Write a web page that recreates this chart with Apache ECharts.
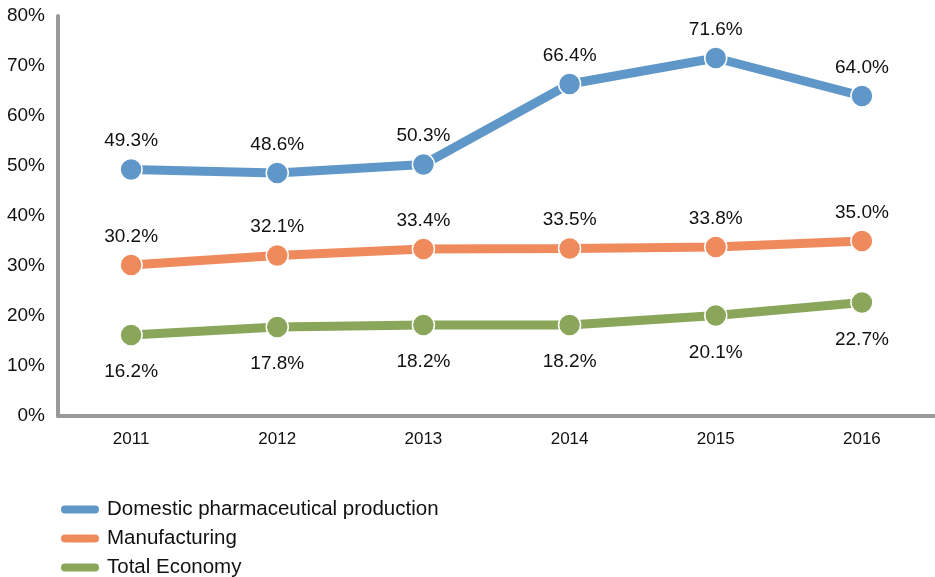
<!DOCTYPE html>
<html><head><meta charset="utf-8">
<script src="https://cdn.jsdelivr.net/npm/echarts@6/dist/echarts.min.js"></script>
<style>html,body{margin:0;padding:0;background:#fff}#c{width:935px;height:577px}</style>
</head><body><div id="c"></div>
<script>
const categories = ['2011','2012','2013','2014','2015','2016'];
const pharma = [49.3, 48.6, 50.3, 66.4, 71.6, 64.0];
const manufacturing = [30.2, 32.1, 33.4, 33.5, 33.8, 35.0];
const totalEconomy = [16.2, 17.8, 18.2, 18.2, 20.1, 22.7];
const seriesNames = ['Domestic pharmaceutical production','Manufacturing','Total Economy'];
const colors = ['#6097c9','#ef8a5c','#8aa65a'];
const font = '"Liberation Sans", Arial, sans-serif';

function mk(name, data, color, pos) {
  return {
    name, type: 'line', data,
    symbol: 'circle', symbolSize: 22,
    lineStyle: { width: 9, color },
    itemStyle: { color, borderColor: '#fff', borderWidth: 1.5 },
    label: { show: true, position: pos, distance: pos === 'top' ? 7 : 16,
      formatter: p => p.value.toFixed(1) + '%', color: '#111', fontSize: 19, fontFamily: font },
    emphasis: { disabled: true }
  };
}
const legendTops = [494, 523, 552];
const capsule = 'path://M5,0 L35,0 A5,5 0 0 1 35,10 L5,10 A5,5 0 0 1 5,0 Z';
const chart = echarts.init(document.getElementById('c'));
chart.setOption({
  animation: false,
  color: colors,
  grid: { left: 58, right: 0, top: 16, bottom: 161, containLabel: false },
  legend: seriesNames.map((n, i) => ({
    orient: 'vertical', left: 54, top: legendTops[i],
    itemWidth: 40, itemHeight: 10, icon: capsule, itemGap: 0,
    textStyle: { fontSize: 20.5, color: '#111', fontFamily: font, padding: [0,0,0,2] },
    data: [n]
  })),
  xAxis: {
    type: 'category', data: categories, boundaryGap: true,
    axisLine: { lineStyle: { color: '#999', width: 4 } },
    axisTick: { show: false },
    axisLabel: { color: '#111', fontSize: 17, fontFamily: font, margin: 15 }
  },
  yAxis: {
    type: 'value', min: 0, max: 80, interval: 10,
    axisLine: { show: true, lineStyle: { color: '#999', width: 4 } },
    axisTick: { show: false },
    splitLine: { show: false },
    axisLabel: { color: '#111', fontSize: 19, fontFamily: font, margin: 13, formatter: '{value}%' }
  },
  series: [
    mk(seriesNames[0], pharma, colors[0], 'top'),
    mk(seriesNames[1], manufacturing, colors[1], 'top'),
    mk(seriesNames[2], totalEconomy, colors[2], 'bottom')
  ]
});
</script></body></html>
